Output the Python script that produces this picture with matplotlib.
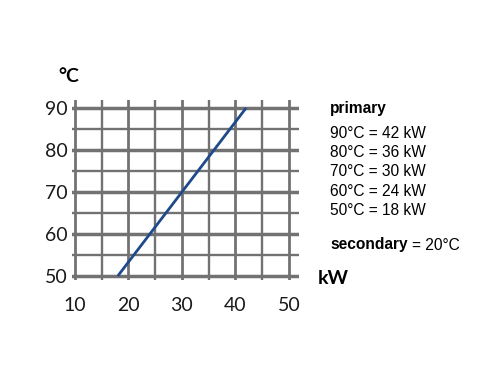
#!/usr/bin/env python3
import matplotlib
matplotlib.use("Agg")
import matplotlib.pyplot as plt

# primary temperature (°C) vs output (kW)
temps = [50, 60, 70, 80, 90]
power = [18, 24, 30, 36, 42]
x_ticks = [10, 20, 30, 40, 50]
y_ticks = [50, 60, 70, 80, 90]
secondary = 20

fig = plt.figure(figsize=(5, 3.75), dpi=100)
ax = fig.add_axes([0.144, 0.2533, 0.454, 0.48])

grid_col = "#727272"
for v in range(10, 51, 5):
    ax.axvline(v, color=grid_col, lw=2.0 if v % 10 == 0 else 1.7, zorder=1)
for v in range(50, 91, 5):
    ax.axhline(v, color=grid_col, lw=2.5 if v % 10 == 0 else 1.7, zorder=1)

ax.plot(power, temps, color="#1f4a8a", lw=2, zorder=3, solid_capstyle="butt")

ax.set_xlim(9.44, 51.9)
ax.set_ylim(49.05, 91.9)
for s in ax.spines.values():
    s.set_visible(False)
ax.set_xticks(x_ticks)
ax.set_yticks(y_ticks)
ax.tick_params(length=0, labelsize=14, labelcolor="#1a1a1a")
ax.tick_params(axis="x", pad=12)
ax.tick_params(axis="y", pad=3)
for lab in ax.get_xticklabels() + ax.get_yticklabels():
    lab.set_family("Lato")

fig.text(58 / 500, 1 - 76 / 375, "°C", family="Lato", fontsize=14,
         fontweight="bold", va="center", ha="left")
fig.text(318 / 500, 1 - 278 / 375, "kW", family="Lato", fontsize=14,
         fontweight="bold", va="center", ha="left")

tx = 330 / 500
fs = 11.2
fig.text(tx, 1 - 109 / 375, "primary", family="Liberation Sans", fontsize=fs,
         fontweight="bold", va="center", ha="left")
for i, (t, p) in enumerate(zip(temps[::-1], power[::-1])):
    fig.text(tx, 1 - (134 + i * 19) / 375, f"{t}°C = {p} kW",
             family="Liberation Sans", fontsize=fs, va="center", ha="left")
sec = fig.text(tx, 1 - 245 / 375, "secondary", family="Liberation Sans",
               fontsize=fs, fontweight="bold", va="center", ha="left")
r = fig.canvas.get_renderer()
bb = sec.get_window_extent(renderer=r)
fig.text(bb.x1 / 500 + 4 / 500, 1 - 245 / 375, f"= {secondary}°C",
         family="Liberation Sans", fontsize=fs, va="center", ha="left")

fig.savefig("out.png", dpi=100)
